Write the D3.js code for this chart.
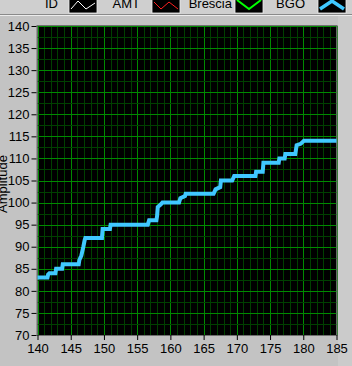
<!DOCTYPE html>
<html><head><meta charset="utf-8">
<script src="https://cdn.jsdelivr.net/npm/d3@7"></script>
<style>
html,body{margin:0;padding:0;background:#c3c3c3;}
svg{display:block;}
text{font-family:"Liberation Sans",Arial,sans-serif;}
</style></head>
<body><svg id="c" width="352" height="366"></svg>
<script>
// Data
const xValues = [140,141.5,141.6,141.8,142.7,142.8,143.7,143.8,146.2,146.3,146.6,146.9,147.1,147.2,149.7,149.8,150.9,151,156.6,156.8,157.9,158,158.1,158.5,158.8,161.3,161.5,162.2,162.3,166.5,166.8,167.5,167.6,169.3,169.6,172.8,172.9,173.9,174,176.3,176.4,177.2,177.3,178.8,179,179.6,180.1,185];
const yValues = [83,83,83.7,84,84,85,85,86,86,87,88,90,91.5,92,92,94,94,95,95,96,96,97,99,99.5,100,100,101,101.5,102,102,103,103.5,105,105,106,106,107,107,109,109,110,110,111,111,113,113.3,114,114];
const xTicks = [140,145,150,155,160,165,170,175,180,185];
const yTicks = [70,75,80,85,90,95,100,105,110,115,120,125,130,135,140];
const legendNames = ["ID","AMT","Brescia","BGO"];
const legendColors = ["#ffffff","#ff2020","#00ff00","#40c8ff"];
const yLabel = "Amplitude";

const svg = d3.select("#c");
const L=37.5, R=336.5, T=26, B=335;
const x = d3.scaleLinear().domain([140,185]).range([L,R]);
const y = d3.scaleLinear().domain([70,140]).range([B,T]);

// legend strip
svg.append("rect").attr("x",0).attr("y",0).attr("width",352).attr("height",14).attr("fill","#cfcfcf");
svg.append("line").attr("x1",0).attr("x2",352).attr("y1",14.5).attr("y2",14.5).attr("stroke","#8a8a8a");
svg.append("line").attr("x1",0).attr("x2",352).attr("y1",15.5).attr("y2",15.5).attr("stroke","#ececec");
// right strip
svg.append("rect").attr("x",338).attr("y",16).attr("width",14).attr("height",350).attr("fill","#cbcbcb");

const textX = [58,140,232,305];
const boxX = [69,152,235,318];
legendNames.forEach((n,i)=>{
  svg.append("text").attr("x",textX[i]).attr("y",8).attr("text-anchor","end")
    .attr("font-size",13).attr("fill","#000").text(n);
  const g = svg.append("g").attr("transform",`translate(${boxX[i]},0)`);
  g.append("rect").attr("x",0).attr("y",-2).attr("width",28).attr("height",15).attr("fill","#000")
    .attr("stroke","#eeeeee").attr("stroke-width",0.8);
  const pts = i===0 ? [[2,9],[9,1],[17,9],[26,3]] :
              i===1 ? [[2,2],[9,9],[17,2],[26,9]] :
              i===2 ? [[2,0],[14,9],[26,0]] : [[2,9],[14,1],[26,9]];
  g.append("path").attr("d",d3.line()(pts)).attr("fill","none")
    .attr("stroke",legendColors[i]).attr("stroke-width", i===3?3.5:(i===2?2:1));
});

// plot background
svg.append("rect").attr("x",L).attr("y",T).attr("width",R-L).attr("height",B-T).attr("fill","#000");
// grid
const g = svg.append("g");
d3.range(140,186,1).forEach(v=>{
  g.append("line").attr("x1",Math.round(x(v))+0.5).attr("x2",Math.round(x(v))+0.5).attr("y1",T).attr("y2",B)
   .attr("stroke", v%5===0 ? "#008a00" : "#004000").attr("stroke-width",1);
});
d3.range(70,140.1,2.5).forEach(v=>{
  g.append("line").attr("y1",Math.round(y(v))+0.5).attr("y2",Math.round(y(v))+0.5).attr("x1",L).attr("x2",R)
   .attr("stroke", v%5===0 ? "#008a00" : "#004000").attr("stroke-width",1);
});
// border
svg.append("rect").attr("x",L-0.5).attr("y",T-0.5).attr("width",R-L+1).attr("height",B-T+1)
  .attr("fill","none").attr("stroke","#707070").attr("stroke-width",1);

// axes
const xa = svg.append("g").attr("transform",`translate(0,${B})`)
  .call(d3.axisBottom(x).tickValues(xTicks).tickSize(5).tickPadding(4).tickFormat(d3.format("d")));
const ya = svg.append("g").attr("transform",`translate(${L-1},0)`)
  .call(d3.axisLeft(y).tickValues(yTicks).tickSize(5).tickPadding(2).tickFormat(d3.format("d")));
[xa,ya].forEach(a=>{
  a.select(".domain").remove();
  a.selectAll(".tick line").attr("stroke","#000");
  a.selectAll(".tick text").attr("font-size",13).attr("fill","#000")
   .attr("font-family","'Liberation Sans',Arial,sans-serif");
});

// y label
svg.append("text").attr("transform","translate(7,184) rotate(-90)").attr("text-anchor","middle")
  .attr("font-size",13).attr("fill","#000").text(yLabel);

// series
const pts = xValues.map((v,i)=>[v,yValues[i]]);
svg.append("path").attr("d", d3.line().x(d=>x(d[0])).y(d=>y(d[1]))(pts))
  .attr("fill","none").attr("stroke","#40c8ff").attr("stroke-width",4).attr("stroke-linejoin","miter");
</script></body></html>
